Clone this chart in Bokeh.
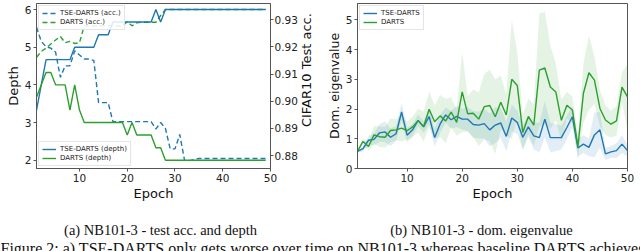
import math
from bokeh.plotting import figure
from bokeh.models import (Range1d, LinearAxis, FixedTicker, PrintfTickFormatter,
                          Legend, LegendItem)
from bokeh.layouts import row, column
from bokeh.core.properties import value
from bokeh.embed import file_html
from bokeh.resources import INLINE

BLUE = "#1f77b4"
GREEN = "#2ca02c"
FONT = "DejaVu Sans"
SERIF = "Liberation Serif"

# ---------------- data: (a) test acc. and depth ----------------
epochs_a = list(range(1, 50))
tse_depth = [3.33, 4.0, 4.67, 4.67, 4.67, 4.67, 4.67, 4.67, 5.0, 5.0,
             5.0, 5.0, 5.0, 5.33, 5.33, 5.33, 5.67, 5.67, 5.67, 5.67,
             5.67, 5.67, 5.67, 5.67, 5.67, 6.0, 5.67, 6.0, 6.0, 6.0,
             6.0, 6.0, 6.0, 6.0, 6.0, 6.0, 6.0, 6.0, 6.0, 6.0,
             6.0, 6.0, 6.0, 6.0, 6.0, 6.0, 6.0, 6.0, 6.0]
darts_depth = [3.67, 4.0, 4.33, 4.33, 4.0, 4.0, 4.0, 3.33, 4.0, 3.33,
               3.0, 3.0, 3.0, 3.0, 3.0, 3.0, 3.0, 3.0, 3.0, 2.67,
               3.0, 2.67, 2.67, 2.67, 2.67, 2.33, 2.33, 2.0, 2.0, 2.0,
               2.0, 2.0, 2.0, 2.0, 2.0, 2.0, 2.0, 2.0, 2.0, 2.0,
               2.0, 2.0, 2.0, 2.0, 2.0, 2.0, 2.0, 2.0, 2.0]
tse_acc = [0.9272, 0.9220, 0.9200, 0.9195, 0.9180, 0.9088, 0.9130, 0.9130, 0.9185, 0.9170,
           0.9155, 0.9155, 0.9150, 0.8995, 0.8995, 0.8995, 0.8925, 0.8925, 0.8925, 0.8925,
           0.8925, 0.8925, 0.8925, 0.8925, 0.8925, 0.8898, 0.8922, 0.8900, 0.8825, 0.8825,
           0.8878, 0.8783, 0.8782, 0.8786, 0.8790, 0.8790, 0.8790, 0.8790, 0.8790, 0.8790,
           0.8790, 0.8790, 0.8790, 0.8790, 0.8790, 0.8790, 0.8790, 0.8790, 0.8790]
darts_acc = [0.9161, 0.9183, 0.9195, 0.9210, 0.9225, 0.9238, 0.9215, 0.9220, 0.9212, 0.9215,
             0.9277, 0.9277, 0.9277, 0.9277, 0.9277, 0.9277, 0.9277, 0.9277, 0.9277, 0.9292,
             0.9277, 0.9288, 0.9290, 0.9290, 0.9290, 0.9290, 0.9315, 0.9337, 0.9337, 0.9337,
             0.9337, 0.9337, 0.9337, 0.9337, 0.9337, 0.9337, 0.9337, 0.9337, 0.9337, 0.9337,
             0.9337, 0.9337, 0.9337, 0.9337, 0.9337, 0.9337, 0.9337, 0.9337, 0.9337]
depth_ticks = [2, 3, 4, 5, 6]
acc_ticks = [0.88, 0.89, 0.90, 0.91, 0.92, 0.93]
epoch_ticks = [10, 20, 30, 40, 50]

# ---------------- data: (b) dominant eigenvalue ----------------
epochs_b = list(range(1, 51))
tse_eig = [0.58, 0.67, 0.95, 0.98, 1.20, 1.23, 1.05, 1.17, 1.90, 1.12,
           1.30, 1.62, 1.40, 1.75, 1.04, 1.50, 1.80, 1.64, 1.75, 1.66,
           1.66, 1.48, 1.46, 1.51, 1.30, 1.46, 1.53, 1.08, 1.70, 1.55,
           1.05, 1.40, 1.10, 1.04, 1.66, 1.04, 1.04, 1.04, 1.38, 1.74,
           0.69, 0.82, 0.71, 1.13, 1.30, 0.49, 0.56, 0.60, 0.82, 0.60]
tse_eig_sd = [0.05, 0.10, 0.15, 0.20, 0.30, 0.35, 0.30, 0.25, 0.30, 0.25,
              0.20, 0.20, 0.20, 0.25, 0.30, 0.30, 0.25, 0.30, 0.35, 0.35,
              0.40, 0.45, 0.45, 0.50, 0.55, 0.60, 0.50, 0.50, 0.45, 0.40,
              0.40, 0.35, 0.45, 0.50, 0.60, 0.50, 0.45, 0.40, 0.40, 0.35,
              0.30, 0.30, 0.30, 0.75, 0.60, 0.20, 0.20, 0.25, 0.30, 0.20]
darts_eig = [0.58, 0.91, 0.74, 1.13, 1.07, 1.05, 1.28, 1.30, 1.36, 1.27,
             1.40, 1.61, 1.41, 1.99, 1.57, 1.77, 1.60, 1.90, 1.55, 2.58,
             1.84, 1.86, 1.66, 2.08, 2.12, 1.74, 2.23, 1.80, 3.00, 2.79,
             1.21, 1.75, 1.46, 3.31, 3.38, 2.74, 2.57, 1.62, 2.13, 1.97,
             0.73, 2.53, 3.22, 2.97, 2.02, 1.63, 1.49, 1.60, 2.74, 2.41]
darts_eig_sd = [0.05, 0.10, 0.15, 0.30, 0.35, 0.35, 0.40, 0.35, 0.45, 0.30,
                0.35, 0.40, 0.50, 0.60, 0.55, 0.70, 0.75, 0.50, 0.45, 1.35,
                0.60, 0.80, 0.90, 1.10, 1.20, 1.25, 0.90, 0.70, 2.00, 1.10,
                0.60, 0.60, 0.70, 1.90, 1.90, 1.40, 0.95, 0.70, 0.45, 0.45,
                0.40, 1.00, 1.25, 0.80, 0.60, 0.50, 0.45, 0.50, 0.50, 1.10]
eig_ticks = [0, 1, 2, 3, 4, 5]

captions = ["(a) NB101-3 - test acc. and depth", "(b) NB101-3 - dom. eigenvalue"]
figure_caption = "Figure 2: a) TSE-DARTS only gets worse over time on NB101-3 whereas baseline DARTS achieves"
acc_axis_label = "CIFAR10 Test acc."


def style_axis(ax, label_size="13px"):
    ax.axis_label_text_font = FONT
    ax.axis_label_text_font_size = label_size
    ax.axis_label_text_font_style = "normal"
    ax.axis_label_text_color = "#111111"
    ax.major_label_text_font = FONT
    ax.major_label_text_font_size = "10.5px"
    ax.major_label_text_color = "#222222"
    ax.major_tick_out = 3
    ax.major_tick_in = 0
    ax.major_label_standoff = 2
    ax.axis_label_standoff = 1
    ax.minor_tick_line_color = None
    ax.major_tick_line_color = "#555555"
    ax.axis_line_color = "#555555"


def style_fig(p):
    p.xgrid.visible = False
    p.ygrid.visible = False
    p.outline_line_color = "#555555"
    p.outline_line_width = 1
    p.background_fill_color = "white"
    p.border_fill_color = "white"


def bare_fig(p):
    p.xaxis.visible = False
    p.yaxis.visible = False
    p.xgrid.visible = False
    p.ygrid.visible = False
    p.outline_line_color = None
    p.border_fill_color = "white"


def style_legend(leg):
    leg.label_text_font = FONT
    leg.label_text_font_size = "7px"
    leg.label_text_color = "#222222"
    leg.glyph_width = 14
    leg.glyph_height = 8
    leg.label_height = 8
    leg.label_standoff = 4
    leg.spacing = 1
    leg.padding = 3
    leg.margin = 2
    leg.border_line_color = "#cccccc"
    leg.border_line_width = 1
    leg.background_fill_alpha = 0.85


# ---------------- figure (a) ----------------
p1 = figure(width=300, height=208, x_range=Range1d(1, 50), y_range=Range1d(1.78, 6.16),
            output_backend="svg", toolbar_location=None, title=None,
            min_border_left=36, min_border_right=30, min_border_top=3, min_border_bottom=40)
p1.extra_y_ranges = {"acc": Range1d(0.8753, 0.9359)}
style_fig(p1)
p1.xaxis.ticker = FixedTicker(ticks=epoch_ticks)
p1.yaxis.ticker = FixedTicker(ticks=depth_ticks)
p1.xaxis.axis_label = "Epoch"
p1.yaxis.axis_label = "Depth"
ax_r = LinearAxis(y_range_name="acc", ticker=FixedTicker(ticks=acc_ticks),
                  formatter=PrintfTickFormatter(format="%.2f"))
p1.add_layout(ax_r, "right")
for ax in [p1.xaxis[0], p1.yaxis[0], ax_r]:
    style_axis(ax)
ax_r.major_label_standoff = 1

r_ta = p1.line(epochs_a, tse_acc, y_range_name="acc", color=BLUE, line_width=1.4, line_dash="5 3")
r_da = p1.line(epochs_a, darts_acc, y_range_name="acc", color=GREEN, line_width=1.4, line_dash="5 3")
r_td = p1.line(epochs_a, tse_depth, color=BLUE, line_width=1.4)
r_dd = p1.line(epochs_a, darts_depth, color=GREEN, line_width=1.4)

leg_acc = Legend(items=[LegendItem(label="TSE-DARTS (acc.)", renderers=[r_ta]),
                        LegendItem(label="DARTS (acc.)", renderers=[r_da])],
                 location="top_left")
leg_dep = Legend(items=[LegendItem(label="TSE-DARTS (depth)", renderers=[r_td]),
                        LegendItem(label="DARTS (depth)", renderers=[r_dd])],
                 location="bottom_left")
for lg in (leg_acc, leg_dep):
    style_legend(lg)
    p1.add_layout(lg)

# ---------------- right-axis title strip (reads bottom to top) ----------------
p_lab = figure(width=20, height=208, x_range=Range1d(0, 20), y_range=Range1d(0, 208),
               output_backend="svg", toolbar_location=None, title=None, min_border=0)
bare_fig(p_lab)
p_lab.text(x=[6], y=[124], text=[acc_axis_label], angle=math.pi / 2,
           text_align="center", text_baseline="middle", text_font=value(FONT),
           text_font_size=value("13px"), text_color="#111111")

# ---------------- figure (b) ----------------
p2 = figure(width=320, height=208, x_range=Range1d(1, 50), y_range=Range1d(0, 5.55),
            output_backend="svg", toolbar_location=None, title=None,
            min_border_left=37, min_border_right=13, min_border_top=2, min_border_bottom=40)
style_fig(p2)
p2.xaxis.ticker = FixedTicker(ticks=epoch_ticks)
p2.yaxis.ticker = FixedTicker(ticks=eig_ticks)
p2.xaxis.axis_label = "Epoch"
p2.yaxis.axis_label = "Dom. eigenvalue"
style_axis(p2.xaxis[0])
style_axis(p2.yaxis[0], label_size="12.5px")

tse_lo = [m - s for m, s in zip(tse_eig, tse_eig_sd)]
tse_hi = [m + s for m, s in zip(tse_eig, tse_eig_sd)]
darts_lo = [m - s for m, s in zip(darts_eig, darts_eig_sd)]
darts_hi = [m + s for m, s in zip(darts_eig, darts_eig_sd)]
p2.varea(x=epochs_b, y1=tse_lo, y2=tse_hi, fill_color=BLUE, fill_alpha=0.13)
p2.varea(x=epochs_b, y1=darts_lo, y2=darts_hi, fill_color=GREEN, fill_alpha=0.13)
r_te = p2.line(epochs_b, tse_eig, color=BLUE, line_width=1.4)
r_de = p2.line(epochs_b, darts_eig, color=GREEN, line_width=1.4)
leg_eig = Legend(items=[LegendItem(label="TSE-DARTS", renderers=[r_te]),
                        LegendItem(label="DARTS", renderers=[r_de])],
                 location="top_left")
style_legend(leg_eig)
p2.add_layout(leg_eig)

# ---------------- caption strip ----------------
p3 = figure(width=640, height=43, x_range=Range1d(0, 640), y_range=Range1d(43, 0),
            output_backend="svg", toolbar_location=None, title=None, min_border=0)
bare_fig(p3)
p3.text(x=[160, 481], y=[21, 21], text=captions, text_align="center",
        text_baseline="alphabetic", text_font=value(SERIF),
        text_font_size=value("14.5px"), text_color="#111111")
p3.text(x=[0], y=[31], text=[figure_caption], text_align="left",
        text_baseline="top", text_font=value(SERIF),
        text_font_size=value("16px"), text_color="#111111")

layout = column(row(p1, p_lab, p2), p3)
open("out.html", "w").write(file_html(layout, INLINE))
